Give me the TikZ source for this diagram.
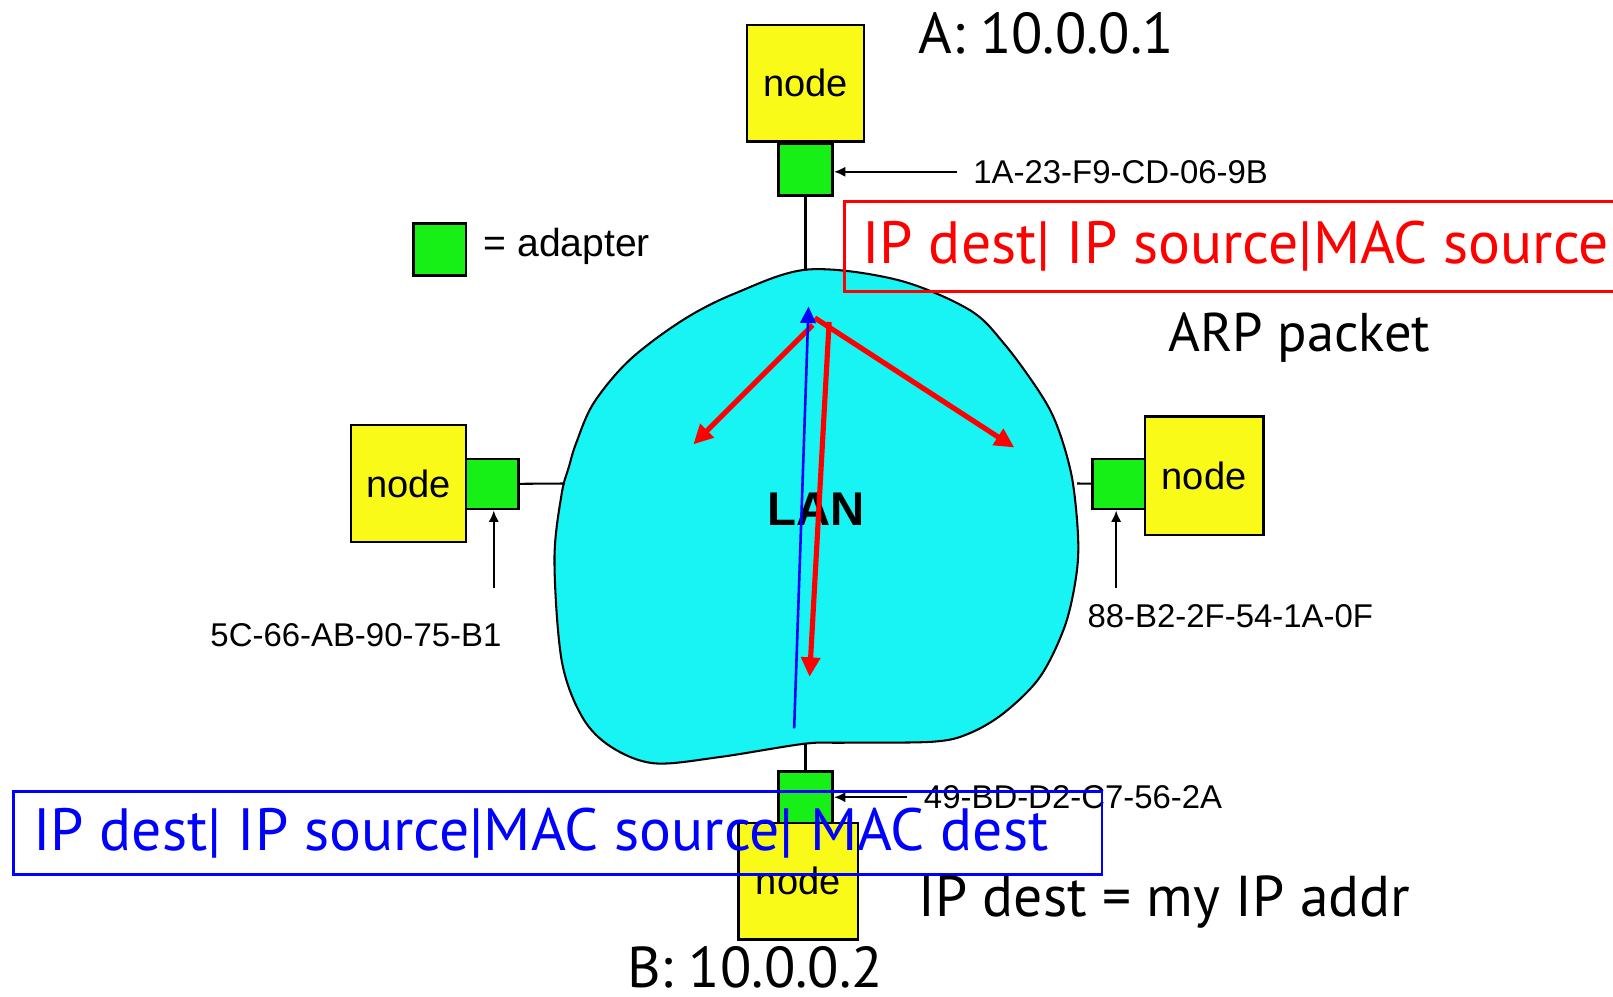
\documentclass[tikz,border=0pt]{standalone}
\usepackage{fontspec}
\setmainfont{Liberation Sans}
\newfontfamily\notefont{PT Sans}
\usetikzlibrary{arrows.meta}
\definecolor{lancyan}{RGB}{24,244,244}
\definecolor{hostyellow}{RGB}{250,250,25}
\definecolor{nicgreen}{RGB}{22,240,22}
\tikzset{host/.style={draw, line width=2.5pt, fill=hostyellow, minimum width=114pt, minimum height=113pt, inner sep=0pt, font=\fontsize{37}{40}\selectfont},
  nic/.style={draw, line width=2.5pt, fill=nicgreen, minimum width=53pt, minimum height=50pt, inner sep=0pt},
  wire/.style={line width=2pt},
  ptr/.style={line width=2pt, -{Latex[length=11pt,width=10pt]}},
  mac/.style={font=\fontsize{32}{36}\selectfont, inner sep=2pt, inner xsep=16pt},
  note/.style={font=\notefont\fontsize{56}{60}\selectfont, inner sep=0pt},
  pkt/.style={font=\notefont\fontsize{58}{62}\selectfont, inner sep=0pt},
  pktbox/.style={line width=2.5pt, inner sep=0pt},
  bcast/.style={red, line width=5pt, -{Triangle[length=19pt,width=18pt]}},
  reply/.style={blue, line width=2.5pt, -{Triangle[length=16pt,width=15pt]}}}

\begin{document}
\begin{tikzpicture}[x=1pt, y=-1pt]
  \useasboundingbox (0,0) rectangle (1568,969);
  \fill[white] (0,0) rectangle (1568,969);
  \draw[line width=2pt, fill=lancyan] plot[smooth cycle, tension=0.55] coordinates {
    (785,262) (872,272) (942,301) (976,334) (1011,382) (1028,415) (1042,464)
    (1048,522) (1046,561) (1035,609) (1011,658) (976,693) (942,713) (907,721)
    (820,722) (782,723) (699,736) (636,742) (594,726) (566,697) (546,642)
    (539,544) (546,480) (553,454) (560,431) (577,392) (612,350) (664,311) (715,285)};
  \node[font=\bfseries\fontsize{46}{50}\selectfont] (lan) at (793,495) {LAN};
  \coordinate (lanN) at (783,263);
  \coordinate (lanW) at (549,470);
  \coordinate (lanE) at (1047,470);
  \coordinate (lanS) at (783,722);

  \node[host] (hostA) at (783,81) {node};
  \node[nic] (nicA) at (783,165) {};
  \node[host, minimum width=112pt, minimum height=114pt] (hostL) at (397,470) {node};
  \node[nic, minimum width=51pt, minimum height=49pt] (nicL) at (478.5,470.5) {};
  \node[host, minimum width=115pt, minimum height=115pt] (hostR) at (1170.5,462.5) {node};
  \node[nic, minimum width=51pt, minimum height=49pt] (nicR) at (1087.5,470.5) {};
  \node[host, minimum width=116pt] (hostB) at (776,856.5) {node};
  \node[nic] (nicB) at (783,775) {};
  \draw[wire] (nicA) -- (lanN);
  \draw[wire] (nicL) -- (lanW);
  \draw[wire] (nicR) -- (lanE);
  \draw[wire] (nicB) -- (lanS);

  \node[nic, minimum width=51pt, minimum height=51pt] (key) at (427.5,242.5) {};
  \node[font=\fontsize{38}{40}\selectfont, anchor=west, inner sep=0pt] (keytxt) at (470,240) {= adapter};

  \node[mac, anchor=west] (macA) at (930,167) {1A-23-F9-CD-06-9B};
  \draw[ptr] (macA.west) -- (macA.west -| nicA.east);
  \node[mac] (macL) at (346,617) {5C-66-AB-90-75-B1};
  \coordinate (stemL) at (480,572);
  \draw[ptr] (stemL) -- (stemL |- nicL.south);
  \node[mac] (macR) at (1196,599) {88-B2-2F-54-1A-0F};
  \coordinate (stemR) at (1085,572);
  \draw[ptr] (stemR) -- (stemR |- nicR.south);
  \node[mac, anchor=west] (macB) at (882,775) {49-BD-D2-C7-56-2A};
  \draw[ptr] (macB.west) -- (macB.west -| nicB.east);

  \coordinate (bsrc) at (792,309);
  \coordinate (bsrcL) at (790,316);
  \coordinate (bsrcS) at (806,313);
  \coordinate (bcL) at (674,432);
  \coordinate (bcR) at (986,435);
  \coordinate (bcS) at (787,658);
  \draw[bcast] (bsrcL) -- (bcL);
  \draw[bcast] (bsrc) -- (bcR);
  \draw[bcast] (bsrcS) -- (bcS);
  \coordinate (rpB) at (772,708);
  \coordinate (rpA) at (786,298);
  \draw[reply] (rpB) -- (rpA);

  \node[note] (ipA) at (1017,32) {A: 10.0.0.1};
  \node[pktbox, minimum width=747pt, minimum height=85pt, anchor=north west] (query) at (821,196) {};
  \draw[pktbox, red] (query.north east) -- (query.north west) -- (query.south west) -- (query.south east);
  \node[pkt, red, anchor=west] (querytxt) at ([xshift=17pt]query.west) {IP dest| IP source|MAC source};
  \node[note, font=\notefont\fontsize{53}{57}\selectfont] (arp) at (1263,328) {ARP packet};
  \node[pktbox, draw=blue, minimum width=1058pt, minimum height=81pt, anchor=north west] (answer) at (12,768) {};
  \node[pkt, blue, anchor=west] (answertxt) at ([xshift=20pt]answer.west) {IP dest| IP source|MAC source| MAC dest};
  \node[note] (mine) at (1132,877) {IP dest = my IP addr};
  \node[note] (ipB) at (734,940) {B: 10.0.0.2};
\end{tikzpicture}
\end{document}
